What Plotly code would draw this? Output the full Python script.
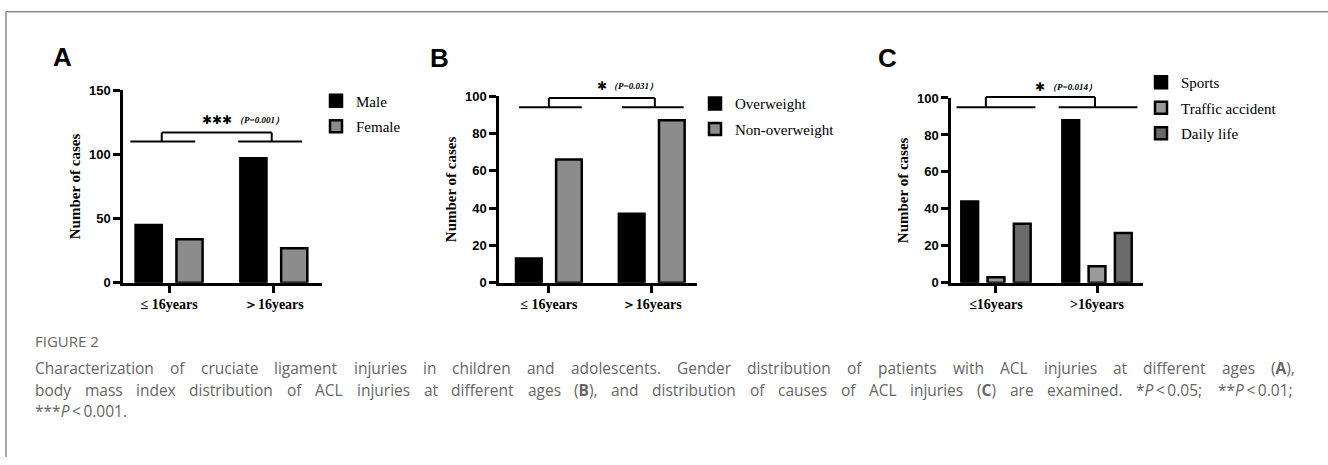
import plotly.graph_objects as go

W, H = 1328, 465

# ---------------- data ----------------
ages_AB = ["≤ 16years", "＞16years"]
ages_C = ["≤16years", ">16years"]

male = [45, 97]
female = [34, 27]

overweight = [13, 37]
non_overweight = [66, 87]

sports = [44, 88]
traffic_accident = [3, 9]
daily_life = [32, 27]

y_ticks_A = [0, 50, 100, 150]
y_ticks_BC = [0, 20, 40, 60, 80, 100]

sig_A = ["✱✱✱", "（P=0.001）"]
sig_B = ["✱", "（P=0.031）"]
sig_C = ["✱", "（P=0.014）"]

# comparison brackets (category-index units, value units)
brk_A = dict(base=110, top=117, left=(-0.37, 0.25), right=(0.66, 1.27), legs=(-0.07, 0.98))
brk_B = dict(base=94, top=99, left=(-0.29, 0.32), right=(0.71, 1.31), legs=(0.0, 1.03))
brk_C = dict(base=95, top=100.5, left=(-0.39, 0.39), right=(0.62, 1.40), legs=(-0.10, 0.98))

caption_title = "FIGURE 2"
caption_lines = [
    "Characterization of cruciate ligament injuries in children and adolescents. Gender distribution of patients with ACL injuries at different ages (A),",
    "body mass index distribution of ACL injuries at different ages (B), and distribution of causes of ACL injuries (C) are examined. *P\u2009<\u20090.05; **P\u2009<\u20090.01;",
    "***P\u2009<\u20090.001.",
]

# ---------------- helpers ----------------
def fx(p):
    return p / W

def fy(p):
    return 1 - p / H

BLACK = "#000000"
GREY = "#8c8c8c"
LIGHT = "#9a9a9a"
DARK = "#6b6b6b"
SERIF = "Liberation Serif, Times New Roman, serif"
SANS = "Liberation Sans, Arial, sans-serif"
CAP_FONT = "Open Sans"
CAP_SIZE = 15.5
CAP_COLOR = "#666666"

# approximate Open Sans advance widths (per 1000 em) used to justify the caption
_adv = {
    "a": 556, "b": 613, "c": 479, "d": 613, "e": 561, "f": 336, "g": 541, "h": 613, "i": 258,
    "j": 258, "k": 525, "l": 258, "m": 930, "n": 613, "o": 602, "p": 613, "q": 613, "r": 408,
    "s": 477, "t": 361, "u": 613, "v": 500, "w": 778, "x": 514, "y": 500, "z": 470,
    "A": 640, "B": 650, "C": 640, "D": 729, "E": 556, "F": 510, "G": 723, "I": 293, "L": 514,
    "P": 602, "R": 612, "U": 726, ".": 266, ",": 254, "(": 297, ")": 297, "*": 551, ";": 266,
    "<": 571, " ": 260, "\u2009": 200,
}

def text_w(s):
    return sum(_adv.get(ch, 571) for ch in s) * CAP_SIZE / 1000

def fmt(word):
    for L in "ABC":
        word = word.replace("(" + L + ")", "(<b>" + L + "</b>)")
    return word.replace("*P", "*<i>P</i>")

fig = go.Figure()

def add_bar(name, x, y, color, xa, ya, legend):
    fig.add_trace(go.Bar(
        name=name, x=x, y=y, xaxis=xa, yaxis=ya, legend=legend, legendgroup=name,
        marker=dict(color=color, line=dict(color=BLACK, width=2.5)),
    ))

add_bar("Male", ages_AB, male, BLACK, "x", "y", "legend")
add_bar("Female", ages_AB, female, GREY, "x", "y", "legend")
add_bar("Overweight", ages_AB, overweight, BLACK, "x2", "y2", "legend2")
add_bar("Non-overweight", ages_AB, non_overweight, GREY, "x2", "y2", "legend2")
add_bar("Sports", ages_C, sports, BLACK, "x3", "y3", "legend3")
add_bar("Traffic accident", ages_C, traffic_accident, LIGHT, "x3", "y3", "legend3")
add_bar("Daily life", ages_C, daily_life, DARK, "x3", "y3", "legend3")

def xaxis_cfg(left, right, rng, ya):
    return dict(
        domain=[fx(left), fx(right)], type="category", range=rng, anchor=ya,
        showline=True, linecolor=BLACK, linewidth=2.5,
        ticks="outside", ticklen=7, tickwidth=2.5, tickcolor=BLACK,
        tickfont=dict(family=SERIF, size=14, color=BLACK, weight="bold"),
        showgrid=False, zeroline=False, fixedrange=True,
    )

def yaxis_cfg(top, bottom, rng, tv, xa):
    return dict(
        domain=[fy(bottom), fy(top)], range=rng, tickvals=tv, anchor=xa,
        showline=True, linecolor=BLACK, linewidth=2.5,
        ticks="outside", ticklen=7, tickwidth=2.5, tickcolor=BLACK,
        tickfont=dict(family=SANS, size=13, color=BLACK, weight="bold"),
        showgrid=False, zeroline=False, fixedrange=True,
        title=dict(text="Number of cases", standoff=5,
                   font=dict(family=SERIF, size=15, color=BLACK, weight="bold")),
    )

fig.update_layout(
    width=W, height=H,
    margin=dict(l=0, r=0, t=0, b=0),
    paper_bgcolor="white", plot_bgcolor="white",
    barmode="group", bargap=0.22, bargroupgap=0.36,
    xaxis=xaxis_cfg(123, 322, [-0.44, 1.46], "y"),
    yaxis=yaxis_cfg(86, 285, [0, 150], y_ticks_A, "x"),
    xaxis2=xaxis_cfg(499, 697, [-0.485, 1.44], "y2"),
    yaxis2=yaxis_cfg(92, 285, [0, 100], y_ticks_BC, "x2"),
    xaxis3=xaxis_cfg(951, 1143, [-0.445, 1.455], "y3"),
    yaxis3=yaxis_cfg(94, 285, [0, 100], y_ticks_BC, "x3"),
)

legend_font = dict(family=SERIF, size=15, color=BLACK)
for key, lx, ly in (("legend", 316, 80), ("legend2", 695, 83), ("legend3", 1141, 61)):
    fig.update_layout({key: dict(x=fx(lx), y=fy(ly), xanchor="left", yanchor="top",
                                 font=legend_font, bgcolor="rgba(0,0,0,0)",
                                 tracegroupgap=3, itemclick=False, itemdoubleclick=False)})

# brackets: x in category index units, y as fraction of the value axis (so they are not clipped)
shapes = []
for brk, xa, ya, ymax in ((brk_A, "x", "y", 150), (brk_B, "x2", "y2", 100), (brk_C, "x3", "y3", 100)):
    line = dict(color=BLACK, width=2)
    yr = ya + " domain"
    b, t = brk["base"] / ymax, brk["top"] / ymax
    for seg in (brk["left"], brk["right"]):
        shapes.append(dict(type="line", xref=xa, yref=yr, x0=seg[0], x1=seg[1], y0=b, y1=b, line=line))
    l, r = brk["legs"]
    shapes.append(dict(type="line", xref=xa, yref=yr, x0=l, x1=l, y0=b, y1=t, line=line))
    shapes.append(dict(type="line", xref=xa, yref=yr, x0=r, x1=r, y0=b, y1=t, line=line))
    shapes.append(dict(type="line", xref=xa, yref=yr, x0=l, x1=r, y0=t, y1=t, line=line))

# figure frame
frame = dict(color="#8a8a8a", width=1.5)
shapes.append(dict(type="line", xref="paper", yref="paper", x0=fx(6), x1=1, y0=fy(5), y1=fy(5), line=frame))
shapes.append(dict(type="line", xref="paper", yref="paper", x0=fx(6), x1=fx(6), y0=fy(5), y1=0, line=frame))
fig.update_layout(shapes=shapes)

ann = []
# panel letters
for letter, px, py in (("A", 62, 52), ("B", 439, 53), ("C", 887, 53)):
    ann.append(dict(text=letter, x=fx(px), y=fy(py), xref="paper", yref="paper", showarrow=False,
                    xanchor="center", yanchor="middle",
                    font=dict(family=SANS, size=26, color=BLACK, weight="bold")))
# significance marks
for sig, sx, sy, px in ((sig_A, 217, 117, 259), (sig_B, 602, 82, 633), (sig_C, 1040, 83, 1072)):
    ann.append(dict(text=sig[0], x=fx(sx), y=fy(sy), xref="paper", yref="paper", showarrow=False,
                    xanchor="center", yanchor="middle",
                    font=dict(family="DejaVu Sans", size=12, color=BLACK)))
    ann.append(dict(text="<i>" + sig[1] + "</i>", x=fx(px), y=fy(sy), xref="paper", yref="paper",
                    showarrow=False, xanchor="center", yanchor="middle",
                    font=dict(family=SERIF, size=9, color=BLACK, weight="bold")))

# caption (justified word by word between CAP_X0 and CAP_X1)
CAP_X0, CAP_X1 = 33, 1292
ann.append(dict(text=caption_title, x=fx(CAP_X0), y=fy(345), xref="paper", yref="paper", showarrow=False,
                xanchor="left", yanchor="middle", font=dict(family=CAP_FONT, size=15, color="#666666")))
cap_y = [373, 395.3, 417.6]
for i, line in enumerate(caption_lines):
    words = line.split(" ")
    cap_font = dict(family=CAP_FONT, size=CAP_SIZE, color=CAP_COLOR)
    if i == len(caption_lines) - 1 or len(words) < 2:
        ann.append(dict(text=fmt(line), x=fx(CAP_X0), y=fy(cap_y[i]), xref="paper", yref="paper",
                        showarrow=False, xanchor="left", yanchor="middle", font=cap_font))
        continue
    widths = [text_w(w) for w in words]
    gap = (CAP_X1 - CAP_X0 - sum(widths)) / (len(words) - 1)
    xpos = CAP_X0
    for w, wd in zip(words, widths):
        ann.append(dict(text=fmt(w), x=fx(xpos), y=fy(cap_y[i]), xref="paper", yref="paper",
                        showarrow=False, xanchor="left", yanchor="middle", font=cap_font))
        xpos += wd + gap
fig.update_layout(annotations=ann)

fig.write_html("out.html", config={"displayModeBar": False},
               post_script="document.body.style.margin='0px';")
